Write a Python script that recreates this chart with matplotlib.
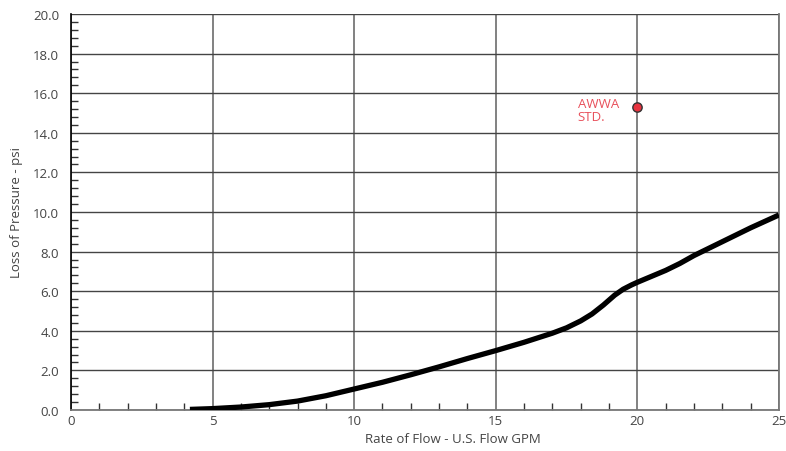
import numpy as np
import matplotlib.pyplot as plt
from matplotlib.ticker import MultipleLocator, AutoMinorLocator

plt.rcParams['font.family'] = ['Open Sans', 'DejaVu Sans']

# flow rate (GPM) vs pressure loss (psi)
flow = [4.2, 5, 6, 7, 8, 9, 10, 11, 12, 13, 14, 15, 16, 17, 17.5, 18, 18.4, 18.8, 19.2, 19.5, 19.8, 20, 20.5, 21, 21.5, 22, 23, 24, 25]
loss = [0.03, 0.07, 0.15, 0.27, 0.45, 0.72, 1.06, 1.4, 1.78, 2.18, 2.6, 3.0, 3.42, 3.88, 4.15, 4.5, 4.85, 5.3, 5.8, 6.1, 6.32, 6.45, 6.75, 7.05, 7.4, 7.8, 8.5, 9.2, 9.85]

awwa_x = [20]
awwa_y = [15.3]
awwa_label = "AWWA\nSTD."

fig = plt.figure(figsize=(7.86, 4.52), dpi=100)
ax = fig.add_axes([0.0903, 0.0907, 0.9007, 0.8761])

ax.plot(flow, loss, color='black', lw=3.8, solid_capstyle='butt', solid_joinstyle='round', zorder=3)
ax.scatter(awwa_x, awwa_y, s=45, color='#e8333f', edgecolor='#333333', linewidth=1, zorder=4)
ax.text(17.9, 15.8, awwa_label, color='#e8505b', fontsize=9.5, ha='left', va='top', linespacing=1.0)

ax.set_xlim(0, 25)
ax.set_ylim(0, 20)
ax.xaxis.set_major_locator(MultipleLocator(5))
ax.yaxis.set_major_locator(MultipleLocator(2))
ax.xaxis.set_minor_locator(AutoMinorLocator(5))
ax.yaxis.set_minor_locator(AutoMinorLocator(5))
ax.yaxis.set_major_formatter(lambda v, p: f"{v:.1f}")

ax.grid(which='major', axis='x', color='#777777', lw=1.3)
ax.grid(which='major', axis='y', color='#444444', lw=1.0)
ax.set_axisbelow(True)

ax.tick_params(which='major', length=0, labelsize=9.5, labelcolor='#444444')
ax.tick_params(axis='y', which='major', pad=8.5)
ax.tick_params(axis='x', which='major', pad=3)
ax.tick_params(which='minor', direction='in', length=5, width=1, color='#333333')

ax.spines['top'].set_visible(False)
ax.spines['left'].set_color('black')
ax.spines['left'].set_linewidth(1.2)
ax.spines['bottom'].set_color('#777777')
ax.spines['bottom'].set_linewidth(1.3)
ax.spines['right'].set_color('#777777')
ax.spines['right'].set_linewidth(1.3)

ax.set_xlabel("Rate of Flow - U.S. Flow GPM", fontsize=9.5, color='#444444', labelpad=4)
ax.xaxis.set_label_coords(0.54, -0.055)
ax.set_ylabel("Loss of Pressure - psi", fontsize=9.5, color='#444444', labelpad=7)

fig.savefig("out.png", dpi=100)
